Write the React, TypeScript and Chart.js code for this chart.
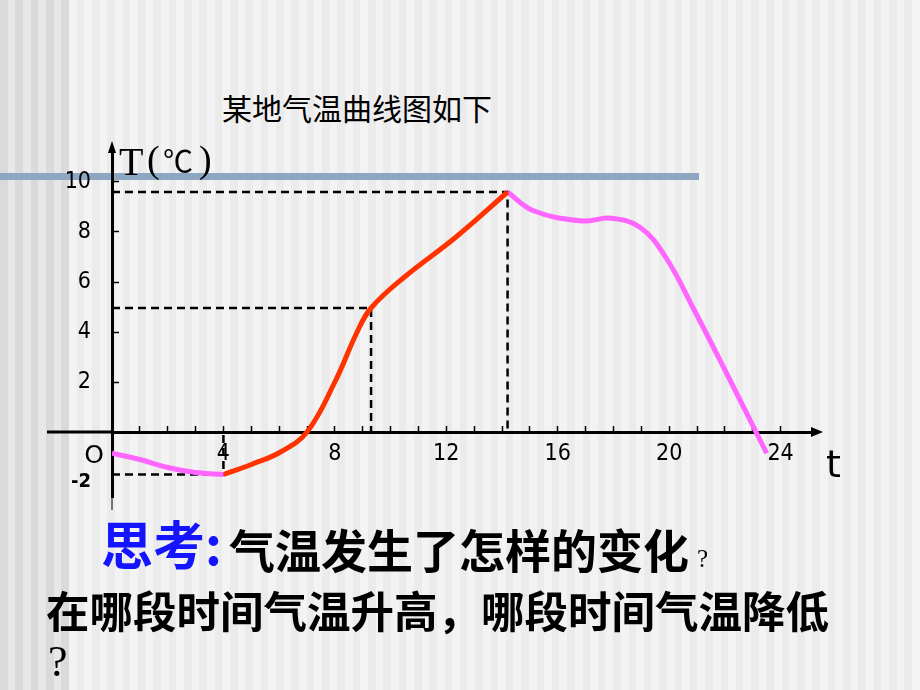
import React, { useEffect, useRef } from 'react';
import { Chart, registerables } from 'chart.js';

Chart.register(...registerables);

// hour of day and temperature (°C)
const EARLY_T = [0, 1, 2, 3, 4];
const EARLY_TEMP = [-0.85, -1.1, -1.42, -1.62, -1.7];
const RISE_T = [4, 5, 6.05, 7, 8, 8.8, 9.3, 10.5, 12.35, 14.2];
const RISE_TEMP = [-1.7, -1.3, -0.8, 0, 2.0, 4.0, 4.96, 6.2, 7.8, 9.6];
const FALL_T = [14.2, 15.13, 16.87, 17.9, 18.94, 19.87, 20.9, 22.06, 23.5];
const FALL_TEMP = [9.6, 8.85, 8.44, 8.55, 8.2, 7.0, 4.88, 2.35, -0.85];

// points picked out by the dashed guide lines: [hour, temperature]
const LOW_MARK = [4, -1.7];
const MID_MARK = [9.3, 4.96];
const HIGH_MARK = [14.2, 9.6];

const X_TICKS = Array.from({ length: 24 }, (_, i) => i + 1);
const X_LABELS = [4, 8, 12, 16, 20, 24];
const Y_TICKS = [-2, 2, 4, 6, 8, 10];

const PINK = '#FF66FF';
const RED = '#FF3300';
const TICK_FONT = '"DejaVu Sans Condensed", "DejaVu Sans", sans-serif';

const pts = (xs: number[], ys: number[]) => xs.map((x, i) => ({ x, y: ys[i] }));

const curve = (data: { x: number; y: number }[], color: string) => ({
  data,
  borderColor: color,
  borderWidth: 5,
  pointRadius: 0,
  tension: 0.4,
  fill: false,
});

const guide = (data: { x: number; y: number }[]) => ({
  data,
  borderColor: '#000',
  borderWidth: 2.5,
  borderDash: [8, 5],
  pointRadius: 0,
  tension: 0,
  fill: false,
});

const axisExtras = {
  id: 'axisExtras',
  afterDraw(chart: any) {
    const { ctx, chartArea, scales } = chart;
    const x0 = scales.x.getPixelForValue(0);
    const y0 = scales.y.getPixelForValue(0);
    ctx.save();
    ctx.strokeStyle = '#000';
    ctx.fillStyle = '#000';
    // x axis continues left of the origin
    ctx.lineWidth = 3;
    ctx.beginPath();
    ctx.moveTo(x0 - 65, y0);
    ctx.lineTo(x0, y0);
    ctx.stroke();
    // thin stub under the y axis
    ctx.lineWidth = 1;
    ctx.beginPath();
    ctx.moveTo(x0, chartArea.bottom);
    ctx.lineTo(x0, chartArea.bottom + 13);
    ctx.stroke();
    // arrow heads
    ctx.beginPath();
    ctx.moveTo(chartArea.right + 9, y0);
    ctx.lineTo(chartArea.right - 3, y0 - 5);
    ctx.lineTo(chartArea.right - 3, y0 + 5);
    ctx.closePath();
    ctx.fill();
    ctx.beginPath();
    ctx.moveTo(x0, chartArea.top - 9);
    ctx.lineTo(x0 - 4, chartArea.top + 3);
    ctx.lineTo(x0 + 4, chartArea.top + 3);
    ctx.closePath();
    ctx.fill();
    // origin and axis names
    ctx.textBaseline = 'middle';
    ctx.textAlign = 'center';
    ctx.font = '25px "DejaVu Sans"';
    ctx.fillText('O', x0 - 18, y0 + 24);
    ctx.textBaseline = 'alphabetic';
    ctx.textAlign = 'left';
    ctx.font = '38px "DejaVu Sans"';
    ctx.fillText('t', chartArea.right + 12, y0 + 45);
    ctx.font = '40px "Liberation Serif"';
    ctx.fillText('T', x0 + 7, chartArea.top + 25);
    ctx.font = '38px "Liberation Serif"';
    ctx.fillText('(', x0 + 35, chartArea.top + 22);
    ctx.fillText(')', x0 + 87, chartArea.top + 22);
    ctx.font = '30px "Noto Sans CJK SC"';
    ctx.fillText('℃', x0 + 51, chartArea.top + 22);
    ctx.restore();
  },
};

export default function App() {
  const canvasRef = useRef<HTMLCanvasElement | null>(null);

  useEffect(() => {
    const canvas = canvasRef.current;
    if (!canvas) return;

    const chart = new Chart(canvas, {
      type: 'line',
      data: {
        datasets: [
          curve(pts(EARLY_T, EARLY_TEMP), PINK),
          curve(pts(RISE_T, RISE_TEMP), RED),
          curve(pts(FALL_T, FALL_TEMP), PINK),
          guide([
            { x: 0, y: HIGH_MARK[1] },
            { x: HIGH_MARK[0], y: HIGH_MARK[1] },
            { x: HIGH_MARK[0], y: 0 },
          ]),
          guide([
            { x: 0, y: MID_MARK[1] },
            { x: MID_MARK[0], y: MID_MARK[1] },
            { x: MID_MARK[0], y: -0.2 },
          ]),
          guide([
            { x: 0, y: LOW_MARK[1] },
            { x: LOW_MARK[0], y: LOW_MARK[1] },
            { x: LOW_MARK[0], y: 0 },
          ]),
        ],
      },
      options: {
        animation: false,
        responsive: false,
        maintainAspectRatio: false,
        layout: { padding: { top: 150, right: 106, bottom: 193, left: 0 } },
        plugins: { legend: { display: false }, tooltip: { enabled: false } },
        scales: {
          x: {
            type: 'linear',
            min: 0,
            max: 25.2,
            position: { y: 0 },
            afterBuildTicks: (s: any) => {
              s.ticks = X_TICKS.map((value) => ({ value }));
            },
            grid: { drawOnChartArea: false, tickLength: -8, tickWidth: 1.5, tickColor: '#000' },
            border: { color: '#000', width: 3 },
            ticks: {
              autoSkip: false,
              maxRotation: 0,
              padding: 16,
              color: '#000',
              font: { family: TICK_FONT, size: 23 },
              callback: (v: any) => (X_LABELS.includes(Number(v)) ? String(v) : ''),
            },
          },
          y: {
            type: 'linear',
            min: -2.6,
            max: 11.28,
            position: 'left',
            afterFit: (s: any) => {
              s.width = 112;
            },
            afterBuildTicks: (s: any) => {
              s.ticks = Y_TICKS.map((value) => ({ value }));
            },
            grid: {
              drawOnChartArea: false,
              tickLength: -7,
              tickWidth: 1.5,
              tickColor: (c: any) => (c.tick && c.tick.value === -2 ? 'rgba(0,0,0,0)' : '#000'),
            },
            border: { color: '#000', width: 3 },
            ticks: {
              padding: 28,
              color: '#000',
              font: (c: any) => ({
                family: TICK_FONT,
                size: c.tick && c.tick.value === -2 ? 20 : 23,
                weight: c.tick && c.tick.value === -2 ? 'bold' : 'normal',
              }),
            },
          },
        },
      } as any,
      plugins: [axisExtras],
    });

    return () => chart.destroy();
  }, []);

  const cjk = '"Noto Sans CJK SC", sans-serif';

  return (
    <div
      style={{
        position: 'absolute',
        left: 0,
        top: 0,
        width: 920,
        height: 690,
        overflow: 'hidden',
        background:
          'repeating-linear-gradient(90deg, #ebebeb 0px, #ebebeb 7.6px, #f3f3f3 7.6px, #f3f3f3 15.33px)',
      }}
    >
      <div
        style={{
          position: 'absolute',
          left: 0,
          top: 0,
          width: 69,
          height: 690,
          background:
            'repeating-linear-gradient(90deg, #dadada 0px, #dadada 7.6px, #e7e7e7 7.6px, #e7e7e7 15.33px)',
        }}
      />
      <div style={{ position: 'absolute', left: 0, top: 173, width: 699, height: 7, background: '#8DA7C3' }} />
      <div
        style={{ position: 'absolute', left: 222, top: 92, fontFamily: cjk, fontSize: 30, lineHeight: '30px', color: '#000', whiteSpace: 'nowrap' }}
      >
        某地气温曲线图如下
      </div>
      <canvas ref={canvasRef} width={920} height={690} style={{ position: 'absolute', left: 0, top: 0, width: 920, height: 690 }} />
      <div
        style={{ position: 'absolute', left: 101, top: 517, fontFamily: cjk, fontSize: 52, lineHeight: '52px', fontWeight: 'bold', color: '#1414FF', whiteSpace: 'nowrap' }}
      >
        思考:
      </div>
      <div
        style={{ position: 'absolute', left: 229, top: 525, fontFamily: cjk, fontSize: 46, lineHeight: '46px', fontWeight: 'bold', color: '#000', whiteSpace: 'nowrap' }}
      >
        气温发生了怎样的变化
      </div>
      <div
        style={{ position: 'absolute', left: 697, top: 546, fontFamily: '"Liberation Serif", serif', fontSize: 25, lineHeight: '25px', color: '#000' }}
      >
        ?
      </div>
      <div
        style={{ position: 'absolute', left: 46, top: 588, fontFamily: cjk, fontSize: 43.5, lineHeight: '43.5px', fontWeight: 'bold', color: '#000', whiteSpace: 'nowrap' }}
      >
        在哪段时间气温升高，哪段时间气温降低
      </div>
      <div
        style={{ position: 'absolute', left: 48, top: 640, fontFamily: '"Liberation Serif", serif', fontSize: 44, lineHeight: '44px', color: '#000' }}
      >
        ?
      </div>
    </div>
  );
}
